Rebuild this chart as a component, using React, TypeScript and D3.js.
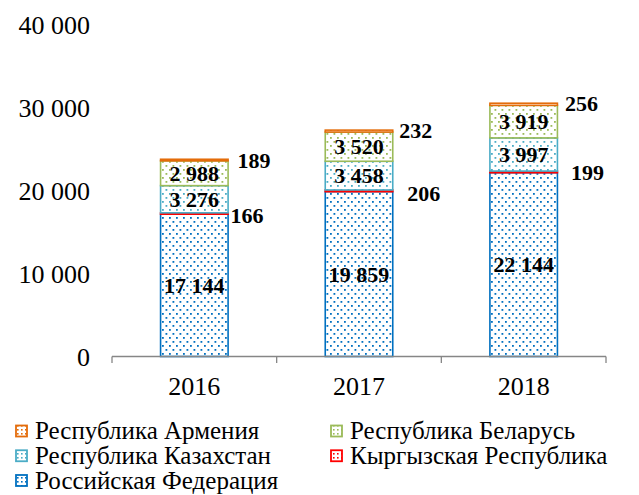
import React from "react";
import * as d3 from "d3";

const years = ["2016", "2017", "2018"];
const russia = [17144, 19859, 22144];
const kyrgyz = [166, 206, 199];
const kazakhstan = [3276, 3458, 3997];
const belarus = [2988, 3520, 3919];
const armenia = [189, 232, 256];
const yTicks = [0, 10000, 20000, 30000, 40000];

const seriesNames = [
  "Российская Федерация",
  "Кыргызская Республика",
  "Республика Казахстан",
  "Республика Беларусь",
  "Республика Армения",
];
const seriesValues = [russia, kyrgyz, kazakhstan, belarus, armenia];
const colors = ["#0070C0", "#FF0000", "#4BACC6", "#9BBB59", "#E46C0A"];

// label placement for thin segments: to the right of the bar
const outsideOffsets: Record<number, { dx: number; dy: number }[]> = {
  1: [{ dx: 19, dy: 1.5 }, { dx: 31, dy: 2 }, { dx: 30, dy: 0 }],
  4: [{ dx: 26, dy: 0 }, { dx: 23, dy: -1 }, { dx: 24, dy: -1 }],
};

const fmt = (v: number) => d3.format(",")(v).replace(/,/g, " ");

export default function App() {
  const W = 639, H = 495;
  const x0 = 112, x1 = 606;
  const x = d3.scaleBand<string>().domain(years).range([x0, x1]).paddingInner(0.59).paddingOuter(0.295);
  const y = d3.scaleLinear().domain([0, 40000]).range([356.5, 24.5]);
  const stackData = years.map((yr, i) => {
    const o: any = { year: yr };
    seriesNames.forEach((n, k) => (o[n] = seriesValues[k][i]));
    return o;
  });
  const stack = d3.stack<any>().keys(seriesNames)(stackData);
  const step = (x1 - x0) / years.length;

  const legendItems = [
    { k: 4, col: 0, row: 0 },
    { k: 3, col: 1, row: 0 },
    { k: 2, col: 0, row: 1 },
    { k: 1, col: 1, row: 1 },
    { k: 0, col: 0, row: 2 },
  ];

  return (
    <svg width={W} height={H} style={{ display: "block", position: "absolute", left: 0, top: 0, fontFamily: "Liberation Serif" }}>
      <style>{`.t { font-family: "Liberation Serif", Tinos, "Times New Roman", serif; fill: #000; }`}</style>
      <defs>
        {colors.map((c, k) => (
          <pattern key={k} id={`pat${k}`} width={7} height={8} patternUnits="userSpaceOnUse">
            <rect width={7} height={8} fill="#fff" />
            <rect x={1} y={1} width={1.8} height={1.8} fill={c} />
            <rect x={4.5} y={5} width={1.8} height={1.8} fill={c} />
          </pattern>
        ))}
        {colors.map((c, k) => (
          <pattern key={"l" + k} id={`lpat${k}`} width={4} height={4} patternUnits="userSpaceOnUse">
            <rect width={4} height={4} fill="#fff" />
            <rect x={1} y={1} width={1.6} height={1.6} fill={c} />
          </pattern>
        ))}
      </defs>
      <rect width={W} height={H} fill="#fff" />
      {yTicks.map((t) => (
        <text key={t} className="t" x={90} y={y(t)} dy="0.35em" textAnchor="end" fontSize={26}>
          {fmt(t)}
        </text>
      ))}
      {stack.map((layer, k) =>
        layer.map((d, i) => {
          const bx = x(years[i])!;
          const bw = x.bandwidth();
          const top = y(d[1]);
          const bot = y(d[0]);
          return (
            <rect
              key={`${k}-${i}`}
              x={bx}
              y={top}
              width={bw}
              height={Math.max(0, bot - top)}
              fill={`url(#pat${k})`}
              stroke={colors[k]}
              strokeWidth={1.6}
            />
          );
        })
      )}
      <line x1={x0} x2={x1} y1={356.5} y2={356.5} stroke="#868686" strokeWidth={1.3} />
      {d3.range(years.length + 1).map((i) => (
        <line key={i} x1={x0 + i * step} x2={x0 + i * step} y1={356.5} y2={363} stroke="#868686" strokeWidth={1.3} />
      ))}
      {years.map((yr) => (
        <text key={yr} className="t" x={x(yr)! + x.bandwidth() / 2} y={386} dy="0.35em" textAnchor="middle" fontSize={26}>
          {yr}
        </text>
      ))}
      {stack.map((layer, k) =>
        layer.map((d, i) => {
          const bx = x(years[i])!;
          const bw = x.bandwidth();
          const mid = (y(d[0]) + y(d[1])) / 2;
          const off = outsideOffsets[k];
          const lx = off ? bx + bw + off[i].dx : bx + bw / 2;
          const ly = off ? mid + off[i].dy : mid;
          return (
            <text key={`l${k}-${i}`} className="t" x={lx} y={ly} dy="0.35em" textAnchor="middle"
              fontSize={22} fontWeight="bold">
              {fmt(d[1] - d[0])}
            </text>
          );
        })
      )}
      {legendItems.map(({ k, col, row }) => {
        const lx = col === 0 ? 16 : 331;
        const ly = 431 + row * 24.75;
        return (
          <g key={k}>
            <rect x={lx} y={ly - 5.5} width={11} height={11} fill={`url(#lpat${k})`} stroke={colors[k]} strokeWidth={1.8} />
            <text className="t" x={lx + 19} y={ly} dy="0.33em" fontSize={25}>
              {seriesNames[k]}
            </text>
          </g>
        );
      })}
    </svg>
  );
}
